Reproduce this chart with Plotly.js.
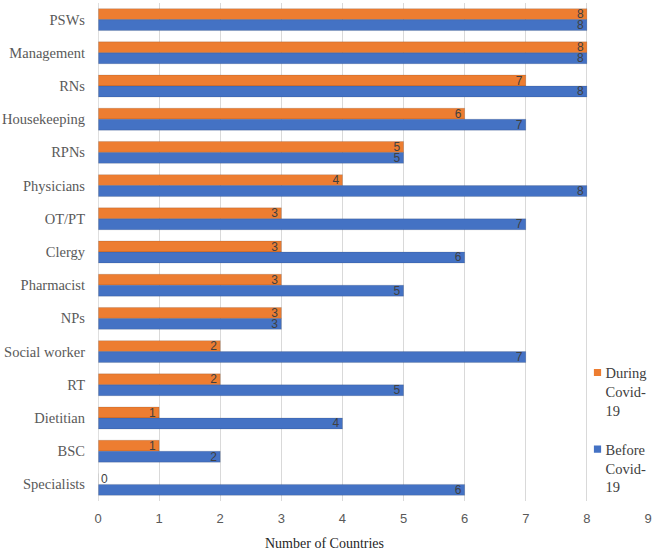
<!DOCTYPE html>
<html>
<head>
<meta charset="utf-8">
<script src="https://cdn.plot.ly/plotly-3.0.1.min.js"></script>
<style>
html,body{margin:0;padding:0;background:#fff;}
#chart{width:653px;height:551px;}
#chart .yaxislayer-above text,
#chart .legendtext,
#chart .annotation-text{font-family:'Liberation Serif','Times New Roman',serif !important;}
</style>
</head>
<body>
<div id="chart"></div>
<script>
const categories = ["PSWs","Management","RNs","Housekeeping","RPNs","Physicians","OT/PT","Clergy","Pharmacist","NPs","Social worker","RT","Dietitian","BSC","Specialists"];
const duringCovid = [8,8,7,6,5,4,3,3,3,3,2,2,1,1,0];
const beforeCovid = [8,8,8,7,5,8,7,6,5,3,7,5,4,2,6];
const seriesNames = ["During<br>Covid-<br>19","Before<br>Covid-<br>19"];
const xTicks = [0,1,2,3,4,5,6,7,8,9];

const SERIF = "Liberation Serif";
const SANS = "Liberation Sans";
const labelFont = {family:SANS, size:12, color:"#404040"};

function barTrace(vals, name, color, group){
  return {
    type:"bar", orientation:"h",
    x: vals, y: categories, name: name,
    legendgroup: group,
    marker:{color: color, line:{color: "rgba(0,0,0,0.12)", width:1}},
    text: vals.map(String),
    textposition: vals.map(v => v === 0 ? "outside" : "inside"),
    insidetextanchor:"end",
    textangle:0,
    constraintext:"none",
    insidetextfont: labelFont,
    outsidetextfont: labelFont,
    cliponaxis:false,
    hoverinfo:"x+y"
  };
}

const data = [
  barTrace(duringCovid, seriesNames[0], "#ED7D31", "a"),
  barTrace(beforeCovid, seriesNames[1], "#4472C4", "b")
];

const layout = {
  width:653, height:551,
  margin:{l:98, r:5, t:3, b:50, pad:0, autoexpand:false},
  paper_bgcolor:"#fff", plot_bgcolor:"#fff",
  barmode:"group", bargap:0.34, bargroupgap:0,
  showlegend:true,
  legend:{
    x:0.85, xanchor:"left", y:0.29, yanchor:"top",
    bgcolor:"rgba(255,255,255,0)",
    font:{family:SERIF, size:14.5, color:"#404040"},
    tracegroupgap:17,
    traceorder:"grouped",
    valign:"top",
    itemwidth:30
  },
  xaxis:{
    range:[0,9], tickvals:xTicks, ticktext:xTicks.map(String),
    showgrid:true, gridcolor:"#d9d9d9", gridwidth:1,
    zeroline:false, showline:false, ticks:"",
    tickfont:{family:SANS, size:13, color:"#595959"},
    ticklabelstandoff:8
  },
  yaxis:{
    type:"category", autorange:"reversed",
    showgrid:false, zeroline:false, showline:false, ticks:"",
    tickfont:{family:SERIF, size:14.5, color:"#595959"},
    ticklabelstandoff:12
  },
  annotations:[{
    text:"Number of Countries", xref:"paper", yref:"paper",
    x:(324-98)/550, y:0, xanchor:"center", yanchor:"middle", yshift:-42,
    showarrow:false,
    font:{family:SERIF, size:14, color:"#262626"}
  }],
  shapes:[{type:"line", xref:"x", yref:"paper", x0:0, x1:0, y0:0, y1:1, line:{color:"#bfbfbf", width:1}}]
};

Plotly.newPlot("chart", data, layout, {displayModeBar:false, staticPlot:true}).then(function(){
  document.querySelectorAll('#chart .legendpoints path').forEach(function(p){
    const t = p.getAttribute('transform') || '';
    p.setAttribute('transform', t + ' translate(12,0) scale(0.6)');
    p.style.strokeWidth = '0px';
  });
});
</script>
</body>
</html>
